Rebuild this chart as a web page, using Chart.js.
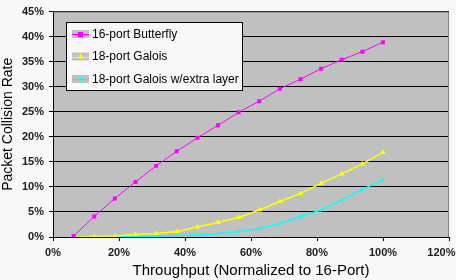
<!DOCTYPE html>
<html>
<head>
<meta charset="utf-8">
<script src="https://cdn.jsdelivr.net/npm/chart.js@4.4.0/dist/chart.umd.min.js"></script>
<style>
  html, body { margin: 0; padding: 0; background: #f8f8f8; }
  #wrap { width: 456px; height: 280px; }
</style>
</head>
<body>
<div id="wrap"><canvas id="collisionChart" width="456" height="280"></canvas></div>
<script>
// throughput (normalized to 16-port), in %
const throughput = [6.25, 12.5, 18.75, 25, 31.25, 37.5, 43.75, 50, 56.25, 62.5, 68.75, 75, 81.25, 87.5, 93.75, 100];
// packet collision rate, in %
const butterfly16 = [0.2, 4.1, 7.7, 11.0, 14.2, 17.1, 19.8, 22.3, 24.9, 27.1, 29.6, 31.5, 33.6, 35.4, 37.0, 38.9];
const galois18 = [0, 0.1, 0.2, 0.5, 0.7, 1.1, 2.0, 2.9, 3.9, 5.4, 7.1, 8.7, 10.7, 12.6, 14.6, 16.9];
const galois18Extra = [0, 0, 0, 0.05, 0.15, 0.3, 0.45, 0.65, 1.1, 1.65, 2.7, 4.1, 5.4, 7.4, 9.5, 11.4];
const seriesNames = ['16-port Butterfly', '18-port Galois', '18-port Galois w/extra layer'];

function toPoints(ys) {
  return ys.map((y, i) => ({ x: throughput[i], y: y }));
}

// grey plot area + grey top/right border
const plotBackground = {
  id: 'plotBackground',
  beforeDraw(chart) {
    const a = chart.chartArea;
    const ctx = chart.ctx;
    ctx.save();
    ctx.fillStyle = '#c0c0c0';
    ctx.fillRect(a.left, a.top, a.right - a.left, a.bottom - a.top);
    ctx.restore();
  },
  afterDatasetsDraw(chart) {
    const a = chart.chartArea;
    const ctx = chart.ctx;
    ctx.save();
    ctx.strokeStyle = '#808080';
    ctx.lineWidth = 1;
    ctx.beginPath();
    ctx.moveTo(a.left, a.top + 0.5);
    ctx.lineTo(a.right - 0.5, a.top + 0.5);
    ctx.lineTo(a.right - 0.5, a.bottom);
    ctx.stroke();
    ctx.restore();
  }
};

// boxed legend inside the plot, like the excel one
const boxLegend = {
  id: 'boxLegend',
  afterDraw(chart) {
    const ctx = chart.ctx;
    const bx = 66.5, by = 22.5, bw = 176, bh = 68;
    ctx.save();
    ctx.fillStyle = '#f8f8f8';
    ctx.fillRect(bx, by, bw, bh);
    ctx.strokeStyle = '#000';
    ctx.lineWidth = 1;
    ctx.strokeRect(bx, by, bw, bh);
    const rows = [34, 56.5, 79];
    chart.data.datasets.forEach((ds, i) => {
      const cy = rows[i];
      ctx.fillStyle = '#c0c0c0';
      ctx.fillRect(72, cy - 4, 17, 8);
      ctx.strokeStyle = ds.borderColor;
      ctx.lineWidth = 1;
      ctx.beginPath();
      ctx.moveTo(72, Math.round(cy) + 0.5);
      ctx.lineTo(89, Math.round(cy) + 0.5);
      ctx.stroke();
      ctx.fillStyle = ds.backgroundColor;
      if (ds.pointStyle === 'rect') {
        ctx.fillRect(78, cy - 2, 5, 5);
      } else if (ds.pointStyle === 'triangle') {
        ctx.beginPath();
        ctx.moveTo(80.5, cy - 3);
        ctx.lineTo(83.5, cy + 2);
        ctx.lineTo(77.5, cy + 2);
        ctx.closePath();
        ctx.fill();
      } else {
        ctx.fillRect(78, cy - 1, 5, 2);
        ctx.fillRect(80, cy - 2, 1, 4);
      }
      ctx.fillStyle = '#000';
      ctx.font = '12px "Liberation Sans", Arial, sans-serif';
      ctx.textBaseline = 'middle';
      ctx.fillText(ds.label, 92, cy + 0.5);
    });
    ctx.restore();
  }
};

const ctx = document.getElementById('collisionChart').getContext('2d');
const chart = new Chart(ctx, {
  type: 'line',
  data: {
    datasets: [
      {
        label: seriesNames[0],
        data: toPoints(butterfly16),
        borderColor: '#ff00ff',
        backgroundColor: '#ff00ff',
        borderWidth: 1,
        pointStyle: 'rect',
        pointRadius: 2.8,
        pointBorderWidth: 0,
        tension: 0
      },
      {
        label: seriesNames[1],
        data: toPoints(galois18),
        borderColor: '#ffff00',
        backgroundColor: '#ffff00',
        borderWidth: 1.5,
        pointStyle: 'triangle',
        pointRadius: 3.2,
        pointBorderWidth: 0,
        tension: 0
      },
      {
        label: seriesNames[2],
        data: toPoints(galois18Extra),
        borderColor: '#00ffff',
        backgroundColor: '#00ffff',
        borderWidth: 1.5,
        pointStyle: 'cross',
        pointRadius: 2.2,
        pointBorderWidth: 1,
        pointBorderColor: '#00ffff',
        tension: 0
      }
    ]
  },
  options: {
    responsive: false,
    animation: false,
    layout: { padding: { top: 3, right: 7, left: 0, bottom: 0 } },
    plugins: {
      legend: { display: false },
      tooltip: { enabled: false }
    },
    scales: {
      x: {
        type: 'linear',
        min: 0,
        max: 120,
        ticks: {
          stepSize: 20,
          color: '#202020',
          font: { family: '"Liberation Sans", Arial, sans-serif', size: 11, weight: 'bold' },
          padding: 5,
          maxRotation: 0,
          // last label sits left of its tick, as in the excel picture
          callback: v => v === 120 ? v + '%     ' : v + '%'
        },
        grid: { drawOnChartArea: false, drawTicks: true, tickLength: 4, color: '#000' },
        border: { color: '#000', width: 1 },
        title: {
          display: true,
          text: 'Throughput (Normalized to 16-Port)',
          color: '#000',
          font: { family: '"Liberation Sans", Arial, sans-serif', size: 15 },
          padding: { top: 1, bottom: 0 }
        },
        afterFit: s => { s.height = 43; s.paddingRight = 0; s.paddingLeft = 0; }
      },
      y: {
        min: 0,
        max: 45,
        ticks: {
          stepSize: 5,
          color: '#202020',
          font: { family: '"Liberation Sans", Arial, sans-serif', size: 11, weight: 'bold' },
          padding: 5,
          callback: v => v + '%'
        },
        grid: { color: '#000', tickLength: 4, lineWidth: 1 },
        border: { color: '#000', width: 1 },
        title: {
          display: true,
          text: 'Packet Collision Rate',
          color: '#000',
          font: { family: '"Liberation Sans", Arial, sans-serif', size: 14 },
          padding: { top: 0, bottom: 0 }
        },
        afterFit: s => { s.width = 53; }
      }
    }
  },
  plugins: [plotBackground, boxLegend]
});
</script>
</body>
</html>
